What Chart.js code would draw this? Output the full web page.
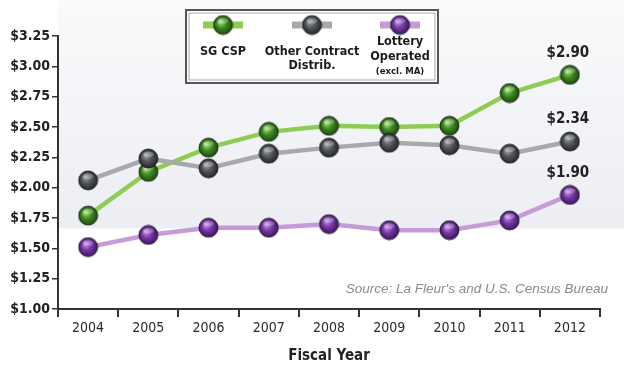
<!DOCTYPE html>
<html><head><meta charset="utf-8">
<script src="https://cdn.jsdelivr.net/npm/chart.js@4/dist/chart.umd.min.js"></script>
<style>html,body{margin:0;padding:0;background:#fff;overflow:hidden}#wrap{width:624px;height:371px}</style>
</head><body><div id="wrap"><canvas id="c" width="624" height="371"></canvas></div>
<script>
// ---- data ----
const years = ['2004','2005','2006','2007','2008','2009','2010','2011','2012'];
const sgCsp = [1.77, 2.13, 2.33, 2.46, 2.51, 2.50, 2.51, 2.78, 2.93];
const otherContract = [2.06, 2.24, 2.16, 2.28, 2.33, 2.37, 2.35, 2.28, 2.38];
const lotteryOperated = [1.51, 1.61, 1.67, 1.67, 1.70, 1.65, 1.65, 1.73, 1.94];
const endLabels = ['$2.90', '$2.34', '$1.90'];
const seriesNames = [['SG CSP'], ['Other Contract', 'Distrib.'], ['Lottery', 'Operated', '(excl. MA)']];
const xTitle = 'Fiscal Year';
const sourceNote = "Source: La Fleur's and U.S. Census Bureau";

const NARROW = '"Liberation Sans Narrow", "DejaVu Sans Condensed", "Liberation Sans", sans-serif';
const styles = [
  {line:'#8fcc55', ball:'#3e8d22', dark:'#1f4a10', hi:'#a6dc7a'},
  {line:'#a9a9ab', ball:'#55575e', dark:'#26272b', hi:'#9a9ca4'},
  {line:'#c79ad8', ball:'#7a3aa8', dark:'#3d1560', hi:'#c08de0'}
];

function makeBall(s, r) {
  const size = Math.ceil(r * 2 + 2);
  const cv = document.createElement('canvas');
  cv.width = size; cv.height = size;
  const g = cv.getContext('2d');
  const c = size / 2;
  const grad = g.createRadialGradient(c - r * 0.3, c - r * 0.35, r * 0.1, c, c, r);
  grad.addColorStop(0, s.hi);
  grad.addColorStop(0.45, s.ball);
  grad.addColorStop(1, s.dark);
  g.beginPath(); g.arc(c, c, r, 0, Math.PI * 2);
  g.fillStyle = grad; g.fill();
  g.lineWidth = 1; g.strokeStyle = 'rgba(20,20,20,0.8)'; g.stroke();
  g.beginPath(); g.ellipse(c, c - r * 0.45, r * 0.55, r * 0.3, 0, 0, Math.PI * 2);
  g.fillStyle = 'rgba(255,255,255,0.28)'; g.fill();
  return cv;
}
const balls = styles.map(s => makeBall(s, 9.5));

const seriesData = [sgCsp, otherContract, lotteryOperated];
const datasets = seriesData.map((d, i) => ({
  label: seriesNames[i].join(' '),
  data: d,
  borderColor: styles[i].line,
  borderWidth: 4.5,
  pointStyle: balls[i],
  pointRadius: 10,
  pointHoverRadius: 10,
  tension: 0,
  fill: false
}));
datasets.reverse();

const decor = {
  id: 'decor',
  beforeDraw(chart) {
    const ctx = chart.ctx, a = chart.chartArea, y = chart.scales.y;
    ctx.save();
    const yb = y.getPixelForValue(1.665);
    const grad = ctx.createLinearGradient(0, 0, 0, yb);
    grad.addColorStop(0, '#f9fafb');
    grad.addColorStop(1, '#eceef3');
    ctx.fillStyle = grad;
    ctx.fillRect(a.left, 0, chart.width - a.left, yb);
    ctx.restore();
  },
  afterDraw(chart) {
    const ctx = chart.ctx, a = chart.chartArea;
    ctx.save();
    const order = [sgCsp, otherContract, lotteryOperated];
    order.forEach((d, i) => {
      const meta = chart.getDatasetMeta(2 - i);
      const pt = meta.data[d.length - 1];
      ctx.font = 'bold 15px ' + NARROW;
      ctx.fillStyle = '#222';
      ctx.textAlign = 'center';
      ctx.textBaseline = 'middle';
      ctx.fillText(endLabels[i], pt.x - 2, pt.y - 22);
    });
    ctx.font = 'italic 13.5px "Liberation Sans", sans-serif';
    ctx.fillStyle = '#8a8a8a';
    ctx.textAlign = 'right';
    ctx.fillText(sourceNote, a.right + 8, chart.scales.y.getPixelForValue(1.16));
    ctx.font = 'bold 15px ' + NARROW;
    ctx.fillStyle = '#222';
    ctx.textAlign = 'center';
    ctx.fillText(xTitle, (a.left + a.right) / 2, a.bottom + 47);
    // legend box
    const bx = 186, by = 10, bw = 252, bh = 73;
    ctx.fillStyle = '#fff';
    ctx.fillRect(bx, by, bw, bh);
    ctx.lineWidth = 2; ctx.strokeStyle = '#555';
    ctx.strokeRect(bx, by, bw, bh);
    ctx.lineWidth = 1; ctx.strokeStyle = '#aaa';
    ctx.strokeRect(bx + 3, by + 3, bw - 6, bh - 6);
    const cx = [223, 312, 400];
    const lineSets = [[52], [52, 66], [42, 57, 72]];
    cx.forEach((x, i) => {
      ctx.strokeStyle = styles[i].line; ctx.lineWidth = 7;
      ctx.beginPath(); ctx.moveTo(x - 20, 25); ctx.lineTo(x + 20, 25); ctx.stroke();
      ctx.drawImage(balls[i], x - balls[i].width / 2, 25 - balls[i].height / 2);
      ctx.fillStyle = '#1a1a1a';
      seriesNames[i].forEach((t, k) => {
        ctx.font = (t.startsWith('(') ? 'bold 9.5px ' : 'bold 12.5px ') + NARROW;
        ctx.fillText(t, x, lineSets[i][k]);
      });
    });
    ctx.restore();
  }
};

new Chart(document.getElementById('c'), {
  type: 'line',
  data: { labels: years, datasets },
  options: {
    responsive: false,
    devicePixelRatio: 1,
    animation: false,
    layout: { padding: { top: 36, right: 24, left: 0, bottom: 0 } },
    plugins: { legend: { display: false }, tooltip: { enabled: false } },
    scales: {
      x: {
        type: 'category',
        offset: true,
        grid: { display: true, drawOnChartArea: false, drawTicks: true, tickLength: 8, color: '#333', lineWidth: 2, offset: true },
        border: { display: true, color: '#333', width: 2 },
        ticks: { color: '#2a2a2a', font: { family: NARROW, size: 14 }, padding: 3, maxRotation: 0 },
        afterFit: s => { s.height = 62; }
      },
      y: {
        min: 1, max: 3.25,
        grid: { display: true, drawOnChartArea: false, drawTicks: true, tickLength: 6, color: '#333', lineWidth: 1.5 },
        border: { display: true, color: '#333', width: 2 },
        ticks: { stepSize: 0.25, color: '#222', font: { family: NARROW, size: 14, weight: 'bold' }, padding: 2,
          callback: v => '$' + Number(v).toFixed(2) },
        afterFit: s => { s.width = 58; }
      }
    }
  },
  plugins: [decor]
});
</script>
</body></html>
